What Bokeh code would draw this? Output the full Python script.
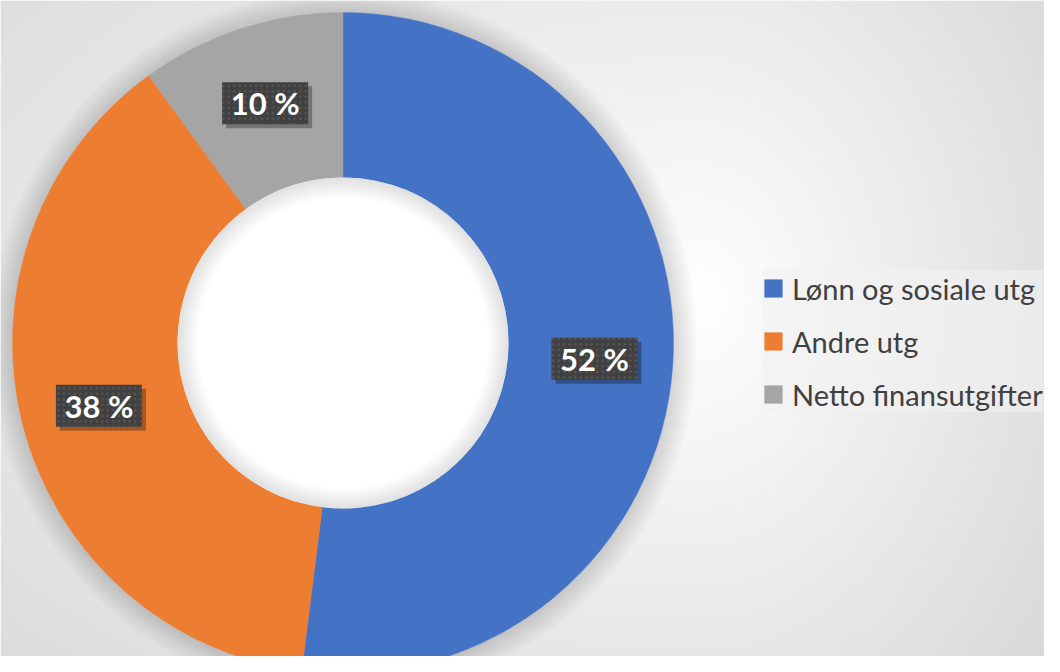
import numpy as np
from bokeh.plotting import figure
from bokeh.models import ColumnDataSource, Range1d, Legend, LegendItem
from bokeh.core.properties import value
from bokeh.embed import file_html
from bokeh.resources import INLINE

# ---- data ----
categories = ["Lønn og sosiale utg", "Andre utg", "Netto finansutgifter"]
shares = [52, 38, 10]
labels = ["52 %", "38 %", "10 %"]
colors = ["#4472C4", "#ED7D31", "#A5A5A5"]

# ---- geometry (data units == screen pixels) ----
W, H = 1044, 656
CX, CY = 342.5, 342.5          # donut centre in picture pixels
R_OUT, R_IN = 330.5, 165.5
x0 = -CX
y0 = CY - H

p = figure(width=W, height=H, output_backend="svg", toolbar_location=None,
           x_range=Range1d(x0, x0 + W), y_range=Range1d(y0, y0 + H),
           min_border=0)
p.axis.visible = False
p.grid.visible = False
p.outline_line_color = None
p.background_fill_color = "#ffffff"
p.border_fill_color = "#ffffff"

# ---- background gradient (style only) ----
gw, gh = W // 2, H // 2
xs = np.linspace(x0, x0 + W, gw) + CX          # picture x
ys = CY - np.linspace(y0, y0 + H, gh)          # picture y (row 0 = bottom)
XX, YY = np.meshgrid(xs, ys)
gcx, gcy = 700.0, 300.0
sx = np.where(XX < gcx, 900.0, 380.0)
sy = 500.0
d = np.sqrt(((XX - gcx) / sx) ** 2 + ((YY - gcy) / sy) ** 2)
d = np.minimum(d, 1.25)
g = (255 - 33 * d).astype(np.uint32)
img = (255 << 24) | (g << 16) | (g << 8) | g
p.image_rgba(image=[img.astype(np.uint32)], x=x0, y=y0, dw=W, dh=H)

# ---- soft shadow around donut ----
for k in range(2, 26, 2):
    p.annulus(x=0, y=0, inner_radius=R_OUT, outer_radius=R_OUT + k,
              fill_color="black", fill_alpha=0.012, line_color=None)

# ---- donut ----
frac = np.array(shares, dtype=float) / sum(shares)
cum = np.concatenate([[0], np.cumsum(frac)])
start = np.pi / 2 - 2 * np.pi * cum[:-1]
end = np.pi / 2 - 2 * np.pi * cum[1:]
mid = (start + end) / 2
r_lab = (R_OUT + R_IN) / 2 + 4

renderers = []
for i in range(len(shares)):
    src = ColumnDataSource(dict(start=[start[i]], end=[end[i]]))
    r = p.annular_wedge(x=0, y=0, inner_radius=R_IN, outer_radius=R_OUT,
                        start_angle="start", end_angle="end", direction="clock",
                        fill_color=colors[i], line_color=colors[i], line_width=0.5,
                        source=src)
    renderers.append(r)

# hole + inner shadow
p.circle(x=0, y=0, radius=R_IN, fill_color="white", line_color=None)
for k in range(2, 22, 2):
    p.annulus(x=0, y=0, inner_radius=R_IN - k, outer_radius=R_IN,
              fill_color="black", fill_alpha=0.01, line_color=None)

# ---- data labels ----
lx = r_lab * np.cos(mid)
ly = r_lab * np.sin(mid)
lab = ColumnDataSource(dict(x=lx, y=ly, sx=lx + 4, sy=ly - 4, text=labels))
p.rect(x="sx", y="sy", width=86, height=42, width_units="screen", height_units="screen",
       fill_color="black", fill_alpha=0.3, line_color=None, source=lab)
p.rect(x="x", y="y", width=86, height=42, width_units="screen", height_units="screen",
       fill_color="#404040", line_color=None, hatch_pattern="dot",
       hatch_color="#555555", hatch_scale=5.5, hatch_weight=2, source=lab)
p.text(x="x", y="y", text="text", text_align="center", text_baseline="middle",
       text_color="white", text_font=value("Lato"), text_font_style="bold",
       text_font_size="31px", source=lab)

# ---- legend ----
items = [LegendItem(label=categories[i], renderers=[renderers[i]]) for i in range(len(shares))]
legend = Legend(items=items, location=(762, 244), orientation="vertical",
                label_text_font="Lato", label_text_font_size="29px",
                label_text_color="#404040",
                glyph_width=22, glyph_height=22, label_height=36,
                spacing=17, padding=14, margin=0,
                background_fill_color="#f2f2f2", background_fill_alpha=0.6,
                border_line_color=None, label_standoff=8)
p.add_layout(legend, "center")

open("out.html", "w").write(file_html(p, INLINE))
